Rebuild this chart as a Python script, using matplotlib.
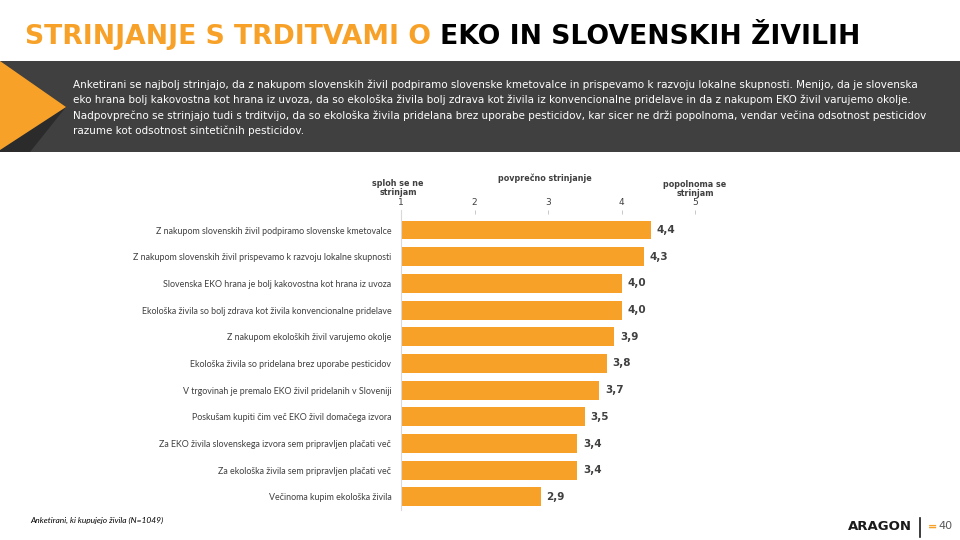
import matplotlib.pyplot as plt
from matplotlib.patches import Rectangle, Polygon

# podatki
trditve = [
    "Z nakupom slovenskih živil podpiramo slovenske kmetovalce",
    "Z nakupom slovenskih živil prispevamo k razvoju lokalne skupnosti",
    "Slovenska EKO hrana je bolj kakovostna kot hrana iz uvoza",
    "Ekološka živila so bolj zdrava kot živila konvencionalne pridelave",
    "Z nakupom ekoloških živil varujemo okolje",
    "Ekološka živila so pridelana brez uporabe pesticidov",
    "V trgovinah je premalo EKO živil pridelanih v Sloveniji",
    "Poskušam kupiti čim več EKO živil domačega izvora",
    "Za EKO živila slovenskega izvora sem pripravljen plačati več",
    "Za ekološka živila sem pripravljen plačati več",
    "Večinoma kupim ekološka živila",
]
povprecje = [4.4, 4.3, 4.0, 4.0, 3.9, 3.8, 3.7, 3.5, 3.4, 3.4, 2.9]
oznake = ["4,4", "4,3", "4,0", "4,0", "3,9", "3,8", "3,7", "3,5", "3,4", "3,4", "2,9"]
lestvica = [1, 2, 3, 4, 5]

povzetek = [
    "Anketirani se najbolj strinjajo, da z nakupom slovenskih živil podpiramo slovenske kmetovalce in prispevamo k razvoju lokalne skupnosti. Menijo, da je slovenska",
    "eko hrana bolj kakovostna kot hrana iz uvoza, da so ekološka živila bolj zdrava kot živila iz konvencionalne pridelave in da z nakupom EKO živil varujemo okolje.",
    "Nadpovprečno se strinjajo tudi s trditvijo, da so ekološka živila pridelana brez uporabe pesticidov, kar sicer ne drži popolnoma, vendar večina odsotnost pesticidov",
    "razume kot odsotnost sintetičnih pesticidov.",
]

ORANZNA = "#F7A128"
W, H = 960, 540

fig = plt.figure(figsize=(9.6, 5.4), dpi=100)

def fx(px):
    return px / W

def fy(py):
    return 1 - py / H

# naslov
t1 = fig.text(fx(25), fy(37), "STRINJANJE S TRDITVAMI O ", color=ORANZNA,
              fontsize=19.2, fontweight="bold", va="center", ha="left")
fig.canvas.draw()
bb = t1.get_window_extent()
fig.text(bb.x1 / W, fy(37), "EKO IN SLOVENSKIH ŽIVILIH", color="black",
         fontsize=19.2, fontweight="bold", va="center", ha="left")

# temni pas s trikotnikom
fig.patches.append(Rectangle((0, fy(152)), 1, (152 - 61) / H, transform=fig.transFigure,
                             facecolor="#404040", edgecolor="none", zorder=0))
fig.patches.append(Polygon([(fx(0), fy(150)), (fx(66), fy(107)), (fx(30), fy(152)), (fx(0), fy(152))],
                           closed=True, transform=fig.transFigure, facecolor="#2b2b2b",
                           edgecolor="none", zorder=1))
fig.patches.append(Polygon([(fx(0), fy(61)), (fx(66), fy(107)), (fx(0), fy(150))],
                           closed=True, transform=fig.transFigure, facecolor=ORANZNA,
                           edgecolor="none", zorder=2))

for i, vrstica in enumerate(povzetek):
    fig.text(fx(73), fy(85 + i * 15.2), vrstica, color="white", fontsize=7.5,
             family="Liberation Sans Narrow", va="center", ha="left")

# graf
ax = fig.add_axes([fx(401), fy(510), 294 / W, 300 / H])
y = list(range(len(trditve)))
ax.barh(y, [v - 1 for v in povprecje], left=1, height=0.71, color=ORANZNA)
for yi, v, o in zip(y, povprecje, oznake):
    ax.text(v + 0.08, yi, o, va="center", ha="left", fontsize=7.5,
            fontweight="bold", color="#404040")

ax.set_xlim(1, 5)
ax.set_ylim(10.49, -0.75)
ax.xaxis.tick_top()
ax.set_xticks(lestvica)
ax.set_xticklabels([str(v) for v in lestvica])
ax.tick_params(axis="x", direction="in", length=3, width=0.6, color="#bfbfbf",
               labelsize=6.5, labelcolor="#404040", pad=2)
ax.set_yticks(y)
ax.set_yticklabels(trditve, family="Lato")
ax.tick_params(axis="y", length=0, labelsize=6.4, labelcolor="#404040", pad=7)
for s in ["top", "right", "bottom"]:
    ax.spines[s].set_visible(False)
ax.spines["left"].set_color("#d9d9d9")
ax.spines["left"].set_linewidth(0.8)

fig.text(fx(398), fy(188), "sploh se ne\nstrinjam", ha="center", va="center",
         fontsize=5.8, fontweight="bold", color="#404040", linespacing=1.0)
fig.text(fx(545), fy(178), "povprečno strinjanje", ha="center", va="center",
         fontsize=5.8, fontweight="bold", color="#404040")
fig.text(fx(695), fy(189), "popolnoma se\nstrinjam", ha="center", va="center",
         fontsize=5.8, fontweight="bold", color="#404040", linespacing=1.0)

# noga
fig.text(fx(30), fy(520), "Anketirani, ki kupujejo živila (N=1049)", ha="left", va="center",
         fontsize=6, style="italic", family="Lato", color="black")
fig.text(fx(912), fy(527), "ARAGON", ha="right", va="center", fontsize=9.5,
         fontweight="bold", color="#1a1a1a")
fig.add_artist(plt.Line2D([fx(920), fx(920)], [fy(518), fy(537)], color="#1a1a1a",
                          linewidth=1.2, transform=fig.transFigure))
fig.text(fx(928), fy(527), "=", ha="left", va="center", fontsize=8,
         fontweight="bold", color=ORANZNA)
fig.text(fx(938), fy(526), "40", ha="left", va="center", fontsize=8, color="#595959")

fig.savefig("out.png", dpi=100)
